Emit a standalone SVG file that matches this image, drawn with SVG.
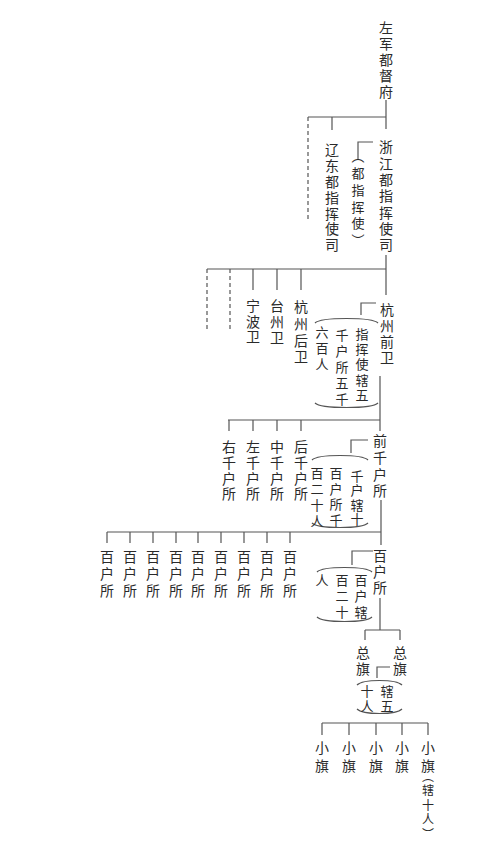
<svg xmlns="http://www.w3.org/2000/svg" width="500" height="843" viewBox="0 0 500 843">
<style>
text{font-family:"Noto Sans CJK SC","Noto Sans CJK JP",sans-serif;fill:#2a2a2a;text-anchor:start;writing-mode:vertical-rl}
.m{font-size:14px;letter-spacing:2px}
.n{font-size:13px;letter-spacing:3px}
.c path{fill:none;stroke:#555;stroke-width:1.2}
.c .d{stroke-dasharray:4 3}
</style>
<rect width="500" height="843" fill="#fff"/>
<g class="c" id="connectors">
<path d="M386 100V117M308 117H386M332 117V130M386 117V129"/>
<path class="d" d="M308 117V220"/>
<path d="M373 142H358V160"/>
<path d="M386 255V295M207 269H386M253 269V290M277 269V290M301 269V290"/>
<path class="d" d="M207 269V330M230 269V330"/>
<path d="M376 303H361V315"/>
<path d="M315 323C321 317 372 317 378 323M315 403C321 409 372 409 378 403"/>
<path d="M380 376V431M228 420H380M229 420V431M253 420V431M277 420V431M301 420V431"/>
<path d="M368 440H351V453"/>
<path d="M312 460C318 454 362 454 368 460M312 523C318 529 362 529 368 523"/>
<path d="M381 500V545M107 532H381M107 532V543M130 532V543M153 532V543M176 532V543M198 532V543M221 532V543M244 532V543M267 532V543M290 532V543"/>
<path d="M373 551H352V565"/>
<path d="M317 572C323 566 366 566 372 572M317 617C323 623 366 623 372 617"/>
<path d="M380 598V630M365 630H400M365 630V640M400 630V640"/>
<path d="M390 667H377V678"/>
<path d="M357 685C363 679 396 679 402 685M357 709C363 715 396 715 402 709"/>
<path d="M322 723H428M322 723V735M349 723V735M376 723V735M402 723V735M428 723V735"/>
</g>
<g id="n-zuojun"><text class="m" x="386" y="21">左军都督府</text></g>
<g id="n-liaodong"><text class="m" x="332" y="143" style="letter-spacing:1.8px">辽东都指挥使司</text></g>
<g id="n-zhejiang"><text class="m" x="386" y="140" style="letter-spacing:2.3px">浙江都指挥使司</text></g>
<g id="note-zhejiang"><text class="n" x="358" y="150" style="letter-spacing:3.7px">（都指挥使）</text></g>
<g id="n-ningbo"><text class="m" x="253" y="299" style="letter-spacing:1.5px">宁波卫</text></g>
<g id="n-taizhou"><text class="m" x="277" y="299">台州卫</text></g>
<g id="n-hzhou"><text class="m" x="301" y="300" style="letter-spacing:2.7px">杭州后卫</text></g>
<g id="n-hzqian"><text class="m" x="387" y="303">杭州前卫</text></g>
<g id="note-hzqian"><text class="n" x="362" y="327.5" style="letter-spacing:2.2px">指挥使辖五</text><text class="n" x="342" y="328.5">千户所五千</text><text class="n" x="322" y="325.5">六百人</text></g>
<g id="n-qianhu"><text class="m" x="380" y="434" style="letter-spacing:2.7px">前千户所</text></g>
<g id="n-you"><text class="m" x="229" y="440" style="letter-spacing:1.7px">右千户所</text></g>
<g id="n-zuo"><text class="m" x="253" y="440" style="letter-spacing:1.7px">左千户所</text></g>
<g id="n-zhong"><text class="m" x="277" y="440" style="letter-spacing:1.7px">中千户所</text></g>
<g id="n-hou"><text class="m" x="301" y="440" style="letter-spacing:1.7px">后千户所</text></g>
<g id="note-qianhu"><text class="n" x="357" y="469.5" style="letter-spacing:1.3px">千户辖十</text><text class="n" x="336" y="466.5" style="letter-spacing:2.7px">百户所千</text><text class="n" x="317" y="466.5">百二十人</text></g>
<g id="n-bai-1"><text class="m" x="107" y="550" style="letter-spacing:3px">百户所</text></g>
<g id="n-bai-2"><text class="m" x="130" y="550" style="letter-spacing:3px">百户所</text></g>
<g id="n-bai-3"><text class="m" x="153" y="550" style="letter-spacing:3px">百户所</text></g>
<g id="n-bai-4"><text class="m" x="176" y="550" style="letter-spacing:3px">百户所</text></g>
<g id="n-bai-5"><text class="m" x="198" y="550" style="letter-spacing:3px">百户所</text></g>
<g id="n-bai-6"><text class="m" x="221" y="550" style="letter-spacing:3px">百户所</text></g>
<g id="n-bai-7"><text class="m" x="244" y="550" style="letter-spacing:3px">百户所</text></g>
<g id="n-bai-8"><text class="m" x="267" y="550" style="letter-spacing:3px">百户所</text></g>
<g id="n-bai-9"><text class="m" x="290" y="550" style="letter-spacing:3px">百户所</text></g>
<g id="n-baihu"><text class="m" x="380" y="549">百户所</text></g>
<g id="note-baihu"><text class="n" x="361" y="573.5">百户辖</text><text class="n" x="342" y="573.5">百二十</text><text class="n" x="322" y="573.5">人</text></g>
<g id="n-zongqi-1"><text class="m" x="363" y="646">总旗</text></g>
<g id="n-zongqi-2"><text class="m" x="400" y="646">总旗</text></g>
<g id="note-zongqi"><text class="n" x="387" y="684.5" style="letter-spacing:2px">辖五</text><text class="n" x="367" y="684.5" style="letter-spacing:2px">十人</text></g>
<g id="n-xiaoqi-1"><text class="m" x="322" y="741" style="letter-spacing:4px">小旗</text></g>
<g id="n-xiaoqi-2"><text class="m" x="349" y="741" style="letter-spacing:4px">小旗</text></g>
<g id="n-xiaoqi-3"><text class="m" x="376" y="741" style="letter-spacing:4px">小旗</text></g>
<g id="n-xiaoqi-4"><text class="m" x="402" y="741" style="letter-spacing:4px">小旗</text></g>
<g id="n-xiaoqi-5"><text class="m" x="428" y="741" style="letter-spacing:4px">小旗</text><text x="428" y="770" style="font-size:12px;letter-spacing:2.5px">（辖十人）</text></g>
</svg>
